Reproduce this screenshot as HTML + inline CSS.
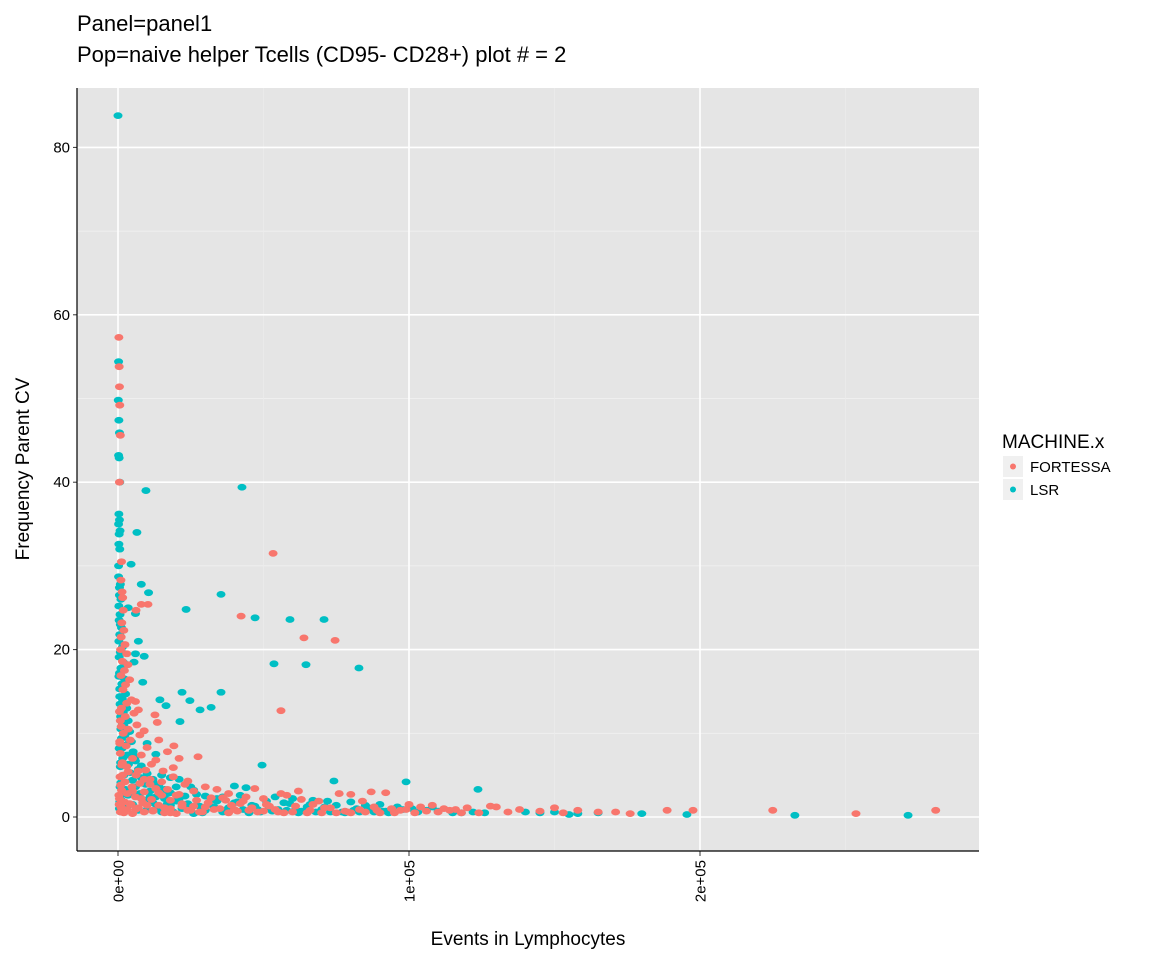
<!DOCTYPE html>
<html><head><meta charset="utf-8"><style>
body{margin:0;background:#fff}
svg{display:block;font-family:"Liberation Sans",Arial,sans-serif}
</style></head><body>
<svg id="chart" width="1152" height="960" viewBox="0 0 1152 960">
<rect width="1152" height="960" fill="#fff"/>
<text x="77" y="31" font-size="22">Panel=panel1</text>
<text x="77" y="62" font-size="22">Pop=naive helper Tcells (CD95- CD28+) plot # = 2</text>
<rect x="77" y="88" width="902" height="763" fill="#e5e5e5"/>
<g id="grid"></g>
<g id="points"></g>
<g id="axes"></g>
<text x="528" y="945" font-size="19" text-anchor="middle">Events in Lymphocytes</text>
<text transform="translate(29,469) rotate(-90)" font-size="19" text-anchor="middle">Frequency Parent CV</text>
<g>
<text x="1002" y="448" font-size="19">MACHINE.x</text>
<rect x="1003" y="456" width="20" height="21" fill="#f0f0f0"/>
<circle cx="1013" cy="466.5" r="3" fill="#F8766D"/>
<text x="1030" y="472" font-size="15">FORTESSA</text>
<rect x="1003" y="479" width="20" height="21" fill="#f0f0f0"/>
<circle cx="1013" cy="489.5" r="3" fill="#00BFC4"/>
<text x="1030" y="495" font-size="15">LSR</text>
</g>
</svg>
<script>
// x values in thousands of events
const xTicks=[0,100,200];
const xTickLabels=["0e+00","1e+05","2e+05"];
const xMinor=[50,150,250];
const yTicks=[0,20,40,60,80];
const yMinor=[10,30,50,70];
const fortessaX=[0.3,0.4,0.5,0.6,0.8,0.5,1.2,1.0,1.4,1.6,1.8,1.3,2,1.1,2.4,0.9,3,1.5,3.4,2.2,1.0,4,2.6,1.7,4.6,3,1.2,5.5,2.5,0.8,6.5,3.5,1.8,7.5,4.2,0.6,2.8,8,5,1.5,9.5,3.5,6.2,0.7,11,2.4,7.5,4.8,13,1.2,9,3.2,15,6,0.5,11.5,18,2.2,8.5,22,4.5,14,26,1,30,7,18,35,3,40,12,24,45,0.8,50,9,28,55,16,60,5,38,65,20,70,75,80,85,90,95,
8,6.2,10.3,53.3,42.3,63.9,74.6,56,12.7,13.5,19.2,27.5,17,21,10,14,9,6,7,11.5,15.5,19,24,30,34,38,44,50,58,63,69,76,80,87,92,100,104,108,112,116,120,128,130,134,138,145,150,153,158,165,171,176,188.7,197.6,225,253.6,281,102,110,124,97,
2,4,6,8,10,12,14,16,18,20,22,25,27,29,31,33,36,39,41,43,46,48,51,54,57,61,66,71,78,83,88,3,5,7,9,11,13,15,17,19,21,23,26,32,37,42,47,52,56,62,67,73,79,84,89,94,99,106,114,118,
0.4,0.9,1.3,0.6,1.1,0.3,1.6,0.8,0.5,1.9];
const fortessaY=[57.3,53.8,51.4,49.2,45.6,40,30.5,28.3,26.9,26.2,24.7,23.2,22.3,21.5,20.6,20,19.5,18.6,18.2,17.5,16.9,16.4,15.8,15.2,14,13.6,13,12.4,12,11.5,11,10.5,10,9.8,9.2,9,8.5,7.4,7,6.5,5.6,5.4,5,4.8,4.5,4.2,4,3.6,3.4,3.2,3,2.8,2.6,2.4,2.2,2.1,2,1.8,1.7,1.6,1.5,1.4,1.3,1.2,1.2,1.1,1,1,0.9,0.9,0.8,0.8,0.8,0.6,0.7,0.6,0.6,0.6,0.5,0.6,0.4,0.5,0.5,0.4,0.5,0.5,0.5,0.6,0.5,0.5,
25.4,24.7,25.4,31.5,24,21.4,21.1,12.7,12.2,11.3,8.5,7.2,7.8,7,8.3,9.2,10.3,13.8,12.8,6.3,5.5,4.8,4.3,3.6,3.3,2.8,2.4,2.2,2.6,2.1,1.9,2.8,2.7,3,2.9,1.5,1.2,1.4,1,0.9,1.1,1.3,1.2,0.6,0.9,0.7,1.1,0.5,0.8,0.6,0.6,0.4,0.8,0.8,0.8,0.4,0.8,0.5,0.6,0.5,0.8,
0.5,1.6,0.9,2.2,1.4,0.7,2.9,1.1,0.5,2.6,1.3,0.8,2.0,0.6,1.7,0.9,2.3,1.4,0.7,1.9,1.1,0.6,1.5,0.9,0.5,1.3,0.8,1.1,0.7,0.9,1.2,6.0,3.1,5.5,4.5,3.9,6.8,4.2,3.3,5.9,2.7,3.9,3.1,2.3,2.0,1.6,3.4,1.3,2.8,3.1,1.5,1.1,0.6,1.9,0.8,1.0,0.9,0.7,0.8,0.5,
1.5,3.8,6.2,8.8,10.8,2.6,5.0,7.6,12.6,0.9];
const lsrX=[0,0.2,0.1,0.3,0.5,0.2,0.4,0.6,0.3,0.5,0.2,0.7,0.4,0.3,0.6,0.2,0.8,0.5,1,0.3,0.7,0.4,1.2,0.6,0.3,1.5,0.8,0.4,1.8,1,0.5,2.2,1.3,0.6,2.6,1.5,0.7,3,1.8,0.9,3.5,2,1,4,2.4,1.2,4.6,2.8,1.4,5.2,3.2,1.6,6,3.6,0.8,7,4.2,2,8,5,1,9.5,6,2.5,11,7.5,3.5,13,16,9,0.6,20,12,5,24,18,28,2,33,22,38,10,43,30,48,15,53,36,58,26,63,45,68,73,78,83,88,93,
9.6,42.6,4.5,6.5,8,10.5,3.5,6,7,6,9,5.5,8.5,35.4,23.4,47.1,59.1,70.8,53.6,64.6,82.8,35.4,22,14.4,24.7,16.5,28.2,32,21.3,49.5,74.2,99,123.7,13,10,15,18,21,25,30,34,40,44,54,60,67,72,80,85,90,96,101,106,110,118,122,126,140,145,150,155,158,165,180,195.5,232.6,271.5,12,17,
1,3,5,7,9,11,13,15,17,19,21,24,27,29,31,34,37,40,42,46,49,51,55,59,62,65,70,75,81,86,91,2,4,6,8,10,12,14,16,18,20,23,26,32,36,41,47,52,57,61,66,71,77,82,87,92,98,103,108,115,
0.2,0.5,0.8,1.1,0.3,0.6,1.4,0.4,0.9,0.7,1.2,0.5];
const lsrY=[83.8,54.4,49.8,47.4,45.9,43.2,42.9,40,36.2,35.5,35,34.2,33.8,32.6,32,28.7,27.8,27.4,26,25.2,24.2,23.5,22.6,21.8,21,20.3,19.7,19.1,18.5,17.8,17.2,16.5,15.9,15.3,14.7,14.1,13.5,13,12.5,12,11.5,11,10.5,10.2,9.8,9.4,9,8.6,8.2,7.8,7.4,7,6.7,6.3,6,5.7,5.3,5,4.7,4.4,4.1,3.9,3.6,3.3,3.1,2.8,2.6,2.4,2.2,2,1.8,1.9,1.7,1.5,1.6,1.4,1.3,1.2,1.2,1,1.1,0.9,0.9,0.8,0.9,0.6,0.7,0.6,0.8,0.4,0.7,0.5,0.6,0.6,0.5,0.6,0.6,0.5,
39,39.4,30.2,34,27.8,26.8,25,24.3,21,19.5,19.2,18.5,16.1,26.6,24.8,23.8,23.6,23.6,18.3,18.2,17.8,14.9,14.9,14,13.9,13.3,12.8,13.1,11.4,6.2,4.3,4.2,3.3,7.5,8.8,5,4.7,4.5,3.6,2.5,1.9,3.7,3.5,2.4,2.2,2,1.9,1.8,1.4,1.5,1.2,1,0.8,0.7,0.5,0.6,0.5,0.6,0.5,0.6,0.3,0.4,0.5,0.4,0.3,0.2,0.2,4.2,2.8,
2.6,1.2,2.9,0.8,1.8,2.4,1.0,2.9,1.6,0.6,2.2,1.1,2.7,0.5,1.5,2.2,0.8,1.7,2.6,1.4,0.6,1.9,0.9,1.6,0.5,1.2,0.9,1.4,0.8,1.1,0.7,11.8,9.1,7.2,6.1,5.2,4.5,3.8,3.3,2.9,3.6,2.5,3.2,2.0,2.4,1.8,1.3,1.1,1.7,0.9,1.5,1.2,0.6,1.0,0.9,0.7,0.9,0.6,1.2,0.5,
30,26.5,23,19.8,16.8,14.4,11,8.2,6.5,3.6,2.0,1.0];

const NS="http://www.w3.org/2000/svg";
const PL=77,PR=979,PT=88,PB=851;
function sx(v){return 118+v*2.91;}
function sy(v){return 817-v*8.37;}
function mk(tag,attrs,parent){const e=document.createElementNS(NS,tag);for(const k in attrs)e.setAttribute(k,attrs[k]);parent.appendChild(e);return e;}
const grid=document.getElementById('grid'),pts=document.getElementById('points'),axes=document.getElementById('axes');
yMinor.forEach(v=>{const l=mk('line',{x1:PL,x2:PR,y1:sy(v),y2:sy(v),stroke:'#f2f2f2','stroke-width':0.8},grid);

});
xMinor.forEach(v=>{const l=mk('line',{x1:sx(v),x2:sx(v),y1:PT,y2:PB,stroke:'#ececec','stroke-width':0.8},grid);

});
yTicks.forEach(v=>{const l=mk('line',{x1:PL,x2:PR,y1:sy(v),y2:sy(v),stroke:'#fff','stroke-width':1.6},grid);


const t=mk('line',{x1:PL-4,x2:PL,y1:sy(v),y2:sy(v),stroke:'#333','stroke-width':1},axes);


const tx=mk('text',{x:PL-7,y:sy(v)+5,'font-size':15,'text-anchor':'end',fill:'#000'},axes);tx.textContent=String(v);

});
xTicks.forEach((v,i)=>{const l=mk('line',{x1:sx(v),x2:sx(v),y1:PT,y2:PB,stroke:'#fff','stroke-width':1.6},grid);


const t=mk('line',{x1:sx(v),x2:sx(v),y1:PB,y2:PB+5,stroke:'#333','stroke-width':1},axes);


const tx=mk('text',{transform:`translate(${sx(v)+5.5},${PB+9}) rotate(-90)`,'font-size':15,'text-anchor':'end',fill:'#000'},axes);tx.textContent=xTickLabels[i];

});
function series(xs,ys,col,name){xs.forEach((x,i)=>{const c=mk('ellipse',{cx:sx(x),cy:sy(ys[i]),rx:4.5,ry:3.4,fill:col},pts);

});}
series(lsrX,lsrY,'#00BFC4','point-lsr');
series(fortessaX,fortessaY,'#F8766D','point-fortessa');
const ax=mk('line',{x1:PL,x2:PL,y1:PT,y2:PB,stroke:'#000','stroke-width':1.2},axes);


const bx=mk('line',{x1:PL,x2:PR,y1:PB,y2:PB,stroke:'#000','stroke-width':1.2},axes);


</script>
</body></html>
